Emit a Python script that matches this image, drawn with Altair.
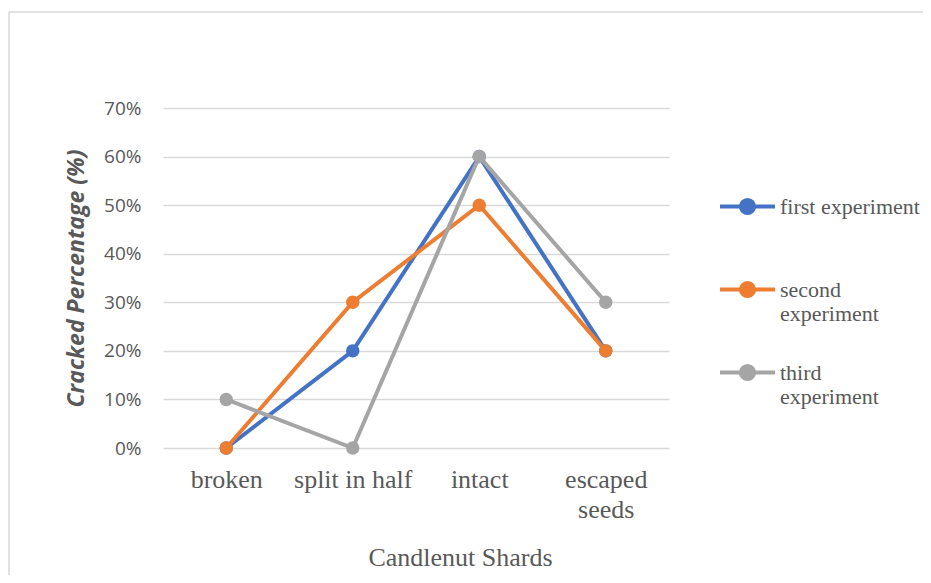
import altair as alt
import pandas as pd

categories = ["broken", "split in half", "intact", "escaped seeds"]
series = ["first experiment", "second experiment", "third experiment"]
first_exp = [0.00, 0.20, 0.60, 0.20]
second_exp = [0.00, 0.30, 0.50, 0.20]
third_exp = [0.10, 0.00, 0.60, 0.30]
colors = ["#4472C4", "#ED7D31", "#A5A5A5"]
y_ticks = [0.0, 0.1, 0.2, 0.3, 0.4, 0.5, 0.6, 0.7]

rows = []
for k, (s, vals) in enumerate(zip(series, [first_exp, second_exp, third_exp])):
    for i, (c, v) in enumerate(zip(categories, vals)):
        rows.append({"shard": c, "series": s, "value": v, "k": k, "i": i})
df = pd.DataFrame(rows)

GRAY_TXT = "#595959"
SERIF = "Liberation Serif"
SANS = "Open Sans"

sym_path = ("M-1,0L1,0M-0.24,0A0.24,0.24,0,1,1,0.24,0"
            "A0.24,0.24,0,1,1,-0.24,0Z")

x_enc = alt.X(
    "shard:N", sort=categories,
    scale=alt.Scale(type="point", padding=0.5),
    axis=alt.Axis(
        title="Candlenut Shards",
        labelExpr="datum.label == 'escaped seeds' ? ['escaped', 'seeds'] : datum.label",
        labelAngle=0, domain=False, ticks=False, grid=False,
    ),
)
y_enc = alt.Y(
    "value:Q",
    scale=alt.Scale(domain=[0, 0.7], nice=False),
    axis=alt.Axis(
        title="Cracked Percentage (%)", values=y_ticks, format=".0%",
        domain=False, ticks=False, grid=True,
    ),
)
color_enc = alt.Color(
    "series:N",
    scale=alt.Scale(domain=series, range=colors),
    legend=alt.Legend(
        title=None, orient="none", legendX=555, legendY=69,
        symbolType=sym_path, symbolSize=3025, symbolStrokeWidth=4,
        labelExpr="datum.label == 'first experiment' ? ['first experiment', ''] : split(datum.label, ' ')",
        labelBaseline="middle", rowPadding=18,
    ),
)

base = alt.Chart(df).encode(x=x_enc, y=y_enc, color=color_enc, detail="series:N")
lines = base.mark_line(strokeWidth=4).encode(order="i:Q")
points = base.mark_point(filled=True, size=180, opacity=1)

border_src = alt.Chart(pd.DataFrame({"a": [0]}))
frame_top = border_src.mark_rule(color="#D9D9D9", strokeWidth=1.5).encode(
    x=alt.value(-154), x2=alt.value(760), y=alt.value(-96)
)
frame_left = border_src.mark_rule(color="#D9D9D9", strokeWidth=1.5).encode(
    x=alt.value(-154), y=alt.value(-96), y2=alt.value(467)
)

chart = alt.layer(frame_top, frame_left, lines, points).properties(
    width=506, height=340,
    padding={"left": 155, "top": 100, "right": 254, "bottom": 127},
    autosize=alt.AutoSizeParams(type="none"),
    view=alt.ViewBackground(strokeWidth=0, strokeOpacity=0, stroke="transparent"),
).configure_view(
    strokeWidth=0, stroke="transparent", strokeOpacity=0
).configure(
    background="white"
).configure_axis(
    domain=False, ticks=False, domainOpacity=0, domainColor="white",
).configure_axisX(
    labelFont=SERIF, labelFontSize=26, labelColor=GRAY_TXT,
    labelLineHeight=30, labelPadding=18,
    titleFont=SERIF, titleFontSize=26, titleFontWeight="normal",
    titleColor=GRAY_TXT, titlePadding=22, titleX=297, titleAlign="center",
).configure_axisY(
    labelFont=SANS, labelFontSize=19, labelColor=GRAY_TXT, labelPadding=22,
    titleFont=SANS, titleFontSize=23, titleFontWeight="bold",
    titleFontStyle="italic", titleColor=GRAY_TXT, titlePadding=15,
    gridColor="#D9D9D9", gridWidth=1.5, domain=False, domainOpacity=0,
).configure_legend(
    labelFont=SERIF, labelFontSize=22, labelColor=GRAY_TXT,
    labelLimit=300, labelOffset=3,
)

chart.save("out.html", embed_options={"renderer": "svg", "actions": False})
